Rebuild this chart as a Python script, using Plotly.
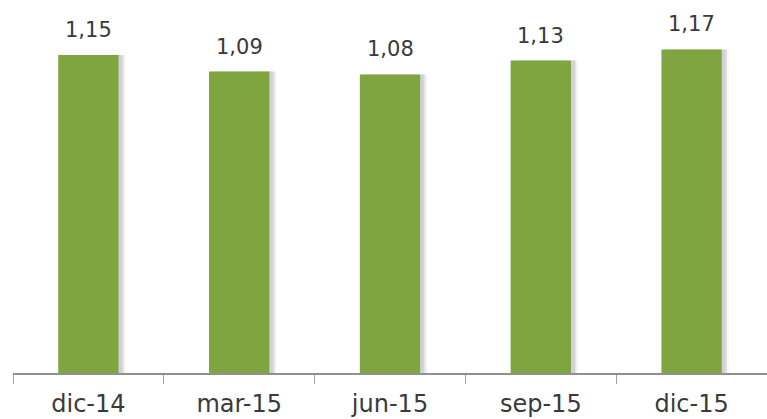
import plotly.graph_objects as go

categories = ["dic-14", "mar-15", "jun-15", "sep-15", "dic-15"]
values = [1.15, 1.09, 1.08, 1.13, 1.17]
labels = ["1,15", "1,09", "1,08", "1,13", "1,17"]

FONT = "DejaVu Sans, sans-serif"

fig = go.Figure()
# soft shadow layers
for dx, a in [(0.045, 0.06), (0.035, 0.09), (0.025, 0.12)]:
    fig.add_trace(go.Bar(
        x=categories, y=values, width=0.4, offset=-0.2 + dx,
        marker=dict(color=f"rgba(70,70,100,{a})", line=dict(width=0)),
        hoverinfo="skip", showlegend=False,
    ))
fig.add_trace(go.Bar(
    x=categories, y=values, width=0.4, offset=-0.2,
    marker=dict(color="#7EA53F", line=dict(width=0)),
    showlegend=False,
))
for c, v, t in zip(categories, values, labels):
    fig.add_annotation(x=c, y=v, text=t, showarrow=False, yanchor="bottom",
                       yshift=11, font=dict(family=FONT, size=21, color="#3a3a3a"))
fig.update_layout(
    barmode="overlay",
    width=767, height=419,
    margin=dict(l=13, r=0, t=0, b=46),
    paper_bgcolor="white", plot_bgcolor="white",
    xaxis=dict(
        type="category", range=[-0.5, 4.5],
        showline=True, linecolor="#909090", linewidth=1.5,
        ticks="outside", tickson="boundaries", ticklen=9, tickcolor="#a0a0a0",
        ticklabelstandoff=8,
        tickfont=dict(family=FONT, size=24, color="#3a3a3a"),
        showgrid=False,
    ),
    yaxis=dict(range=[0, 1.349], visible=False, showgrid=False),
)
fig.write_html("out.html")
